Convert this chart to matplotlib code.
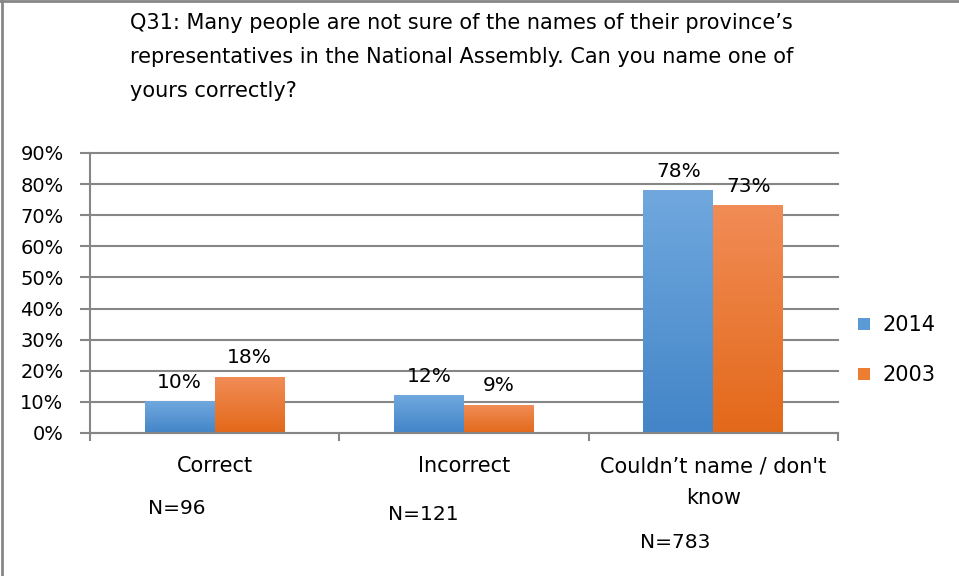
import numpy as np
import matplotlib.pyplot as plt
from matplotlib.colors import LinearSegmentedColormap
from matplotlib.lines import Line2D

categories = ["Correct", "Incorrect", "Couldn\u2019t name / don't\nknow"]
n_labels = ["N=96", "N=121", "N=783"]
series = ["2014", "2003"]
values_2014 = [10, 12, 78]
values_2003 = [18, 9, 73]
yticks = [0, 10, 20, 30, 40, 50, 60, 70, 80, 90]
title = ("Q31: Many people are not sure of the names of their province\u2019s\n"
         "representatives in the National Assembly. Can you name one of\n"
         "yours correctly?")

plt.rcParams['font.family'] = ['DejaVu Sans']
grey = "#868686"

fig = plt.figure(figsize=(9.59, 5.76), dpi=100)
ax = fig.add_axes([0.0938, 0.2483, 0.7800, 0.4861])

x = np.arange(len(categories))
w = 0.28
b1 = ax.bar(x - w / 2, values_2014, w, color="#5B9BD5", label=series[0], zorder=2)
b2 = ax.bar(x + w / 2, values_2003, w, color="#ED7D31", label=series[1], zorder=2)

# gradient fill like the Excel original
grads = [("#4385C8", "#70A8DE"), ("#E3691A", "#F18C56")]
for bars, (c0, c1) in zip([b1, b2], grads):
    cmap = LinearSegmentedColormap.from_list("g", [c0, c1])
    for p in bars:
        x0, y0 = p.get_x(), p.get_y()
        ax.imshow(np.linspace(0, 1, 100).reshape(-1, 1), cmap=cmap, origin="lower",
                  extent=[x0, x0 + p.get_width(), y0, y0 + p.get_height()],
                  aspect="auto", zorder=2.5)
    ax.bar_label(bars, labels=[f"{v}%" for v in bars.datavalues], padding=7,
                 fontsize=14.5, color="#000000")

ax.set_xlim(-0.5, len(categories) - 0.5)
ax.set_ylim(0, 90)
ax.set_yticks(yticks)
ax.set_yticklabels([f"{t}%" for t in yticks], fontsize=14)
ax.yaxis.grid(True, color=grey, linewidth=1.5, zorder=0)
for gl in ax.get_ygridlines():
    gl.set_clip_on(False)
ax.set_axisbelow(True)

ax.set_xticks([-0.5, 0.5, 1.5, 2.5])
ax.set_xticklabels([])
ax.tick_params(axis="x", length=6, width=1.5, color=grey, direction="out")
ax.tick_params(axis="y", length=7, width=1.5, color=grey, direction="out", pad=12)
for s in ["top", "right"]:
    ax.spines[s].set_visible(False)
for s in ["left", "bottom"]:
    ax.spines[s].set_color(grey)
    ax.spines[s].set_linewidth(1.5)

# category labels
for i, c in enumerate(categories):
    ax.text(i, -7.5, c, ha="center", va="top", fontsize=15,
            transform=ax.transData, linespacing=1.7, clip_on=False)

# N annotations as free text boxes
n_pos = [(148, 508), (388, 514), (640, 542)]
for lab, (px, py) in zip(n_labels, n_pos):
    fig.text(px / 959, 1 - py / 576, lab, ha="left", va="center", fontsize=14.5)

fig.text(130 / 959, 1 - 13 / 576, title, ha="left", va="top", fontsize=15,
         linespacing=1.87)

ax.legend(loc="center left", bbox_to_anchor=(1.002, 0.295), frameon=False,
          fontsize=15, handlelength=0.55, handleheight=0.55, labelspacing=1.45,
          handletextpad=0.6)

# chart-area border (only top and left visible in the original)
fig.add_artist(Line2D([0.0021, 0.0021], [0, 1], transform=fig.transFigure,
                      color=grey, linewidth=2))
fig.add_artist(Line2D([0, 1], [0.9983, 0.9983], transform=fig.transFigure,
                      color=grey, linewidth=2))

fig.savefig("out.png", dpi=100)
